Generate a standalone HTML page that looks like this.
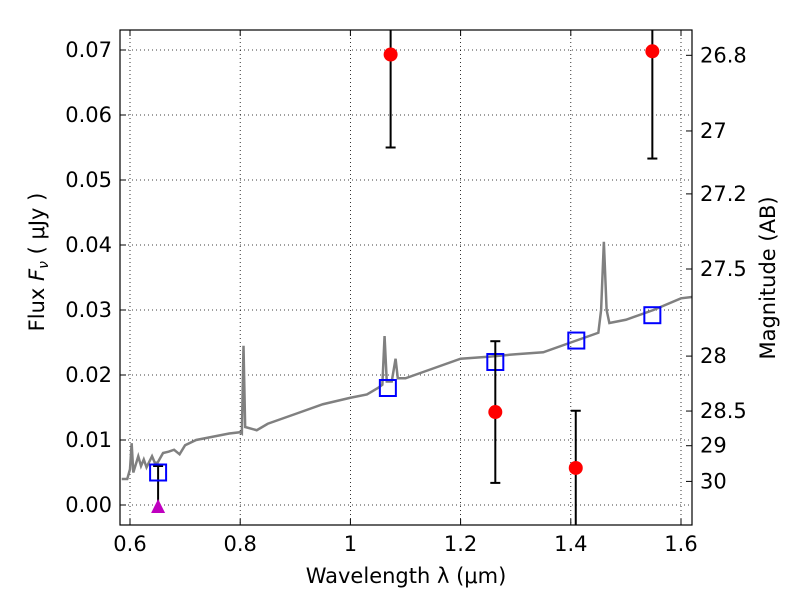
<!DOCTYPE html>
<html><head><meta charset="utf-8"><style>
body{margin:0;background:#fff}
svg text{font-family:"DejaVu Sans","Liberation Sans",sans-serif;font-size:21px;fill:#000}
</style></head><body>
<svg id="c" width="800" height="600"></svg>
<script>
const specX=[0.585,0.595,0.6,0.603,0.606,0.615,0.62,0.625,0.63,0.64,0.645,0.65,0.66,0.67,0.68,0.69,0.7,0.72,0.75,0.78,0.8,0.803,0.806,0.809,0.83,0.85,0.9,0.95,1.0,1.03,1.05,1.058,1.062,1.066,1.075,1.082,1.086,1.1,1.15,1.2,1.25,1.3,1.35,1.4,1.45,1.455,1.46,1.465,1.47,1.5,1.55,1.6,1.62];
const specY=[0.004,0.004,0.0055,0.0095,0.005,0.0075,0.006,0.007,0.0058,0.0075,0.0065,0.0065,0.008,0.0082,0.0085,0.0078,0.0092,0.01,0.0105,0.011,0.0112,0.011,0.0245,0.012,0.0115,0.0125,0.014,0.0155,0.0165,0.017,0.018,0.0185,0.026,0.019,0.019,0.0225,0.0195,0.0195,0.021,0.0225,0.0228,0.0232,0.0235,0.025,0.0265,0.03,0.0405,0.03,0.028,0.0285,0.03,0.0318,0.032];
const obsX=[1.073,1.548,1.263,1.409];
const obsY=[0.0693,0.0698,0.0143,0.0057];
const obsLo=[0.055,0.0533,0.0034,-0.01];
const obsHi=[0.08,0.08,0.0252,0.0145];
const modX=[0.651,1.068,1.263,1.41,1.548];
const modY=[0.005,0.018,0.022,0.0253,0.0292];
const limX=[0.651], limY=[0.0], limHi=[0.006];
const xTicks=[0.6,0.8,1,1.2,1.4,1.6], xLabels=["0.6","0.8","1","1.2","1.4","1.6"];
const yTicks=[0,0.01,0.02,0.03,0.04,0.05,0.06,0.07];
const magTicks=[26.8,27,27.2,27.5,28,28.5,29,30];

const L=120,R=692,T=30,B=525;
const X=v=>130+(v-0.6)*551;
const Y=v=>505-v*6500;
const svg=document.getElementById('c');
const NS='http://www.w3.org/2000/svg';
function mk(tag,at,name,parent){const e=document.createElementNS(NS,tag);for(const k in at)e.setAttribute(k,at[k]);


(parent||svg).appendChild(e);return e;}
const clip=mk('clipPath',{id:'cp'},'clip');mk('rect',{x:L,y:T,width:R-L,height:B-T},'clip-rect',clip);
const g=mk('g',{'clip-path':'url(#cp)'},'plot-area');
xTicks.forEach((t,i)=>{const x=X(t);
mk('line',{x1:x,x2:x,y1:T,y2:B,stroke:'#000','stroke-dasharray':'1,3','stroke-width':0.8},'x-grid',g);
mk('line',{x1:x,x2:x,y1:B,y2:B-6,stroke:'#000'},'x-tick');mk('line',{x1:x,x2:x,y1:T,y2:T+6,stroke:'#000'},'x-tick-top');
const tx=mk('text',{x:x,y:B+26,'text-anchor':'middle'},'x-tick-label');tx.textContent=xLabels[i];});
yTicks.forEach(t=>{const y=Y(t);
mk('line',{x1:L,x2:R,y1:y,y2:y,stroke:'#000','stroke-dasharray':'1,3','stroke-width':0.8},'y-grid',g);
mk('line',{x1:L,x2:L+6,y1:y,y2:y,stroke:'#000'},'y-tick');
const tx=mk('text',{x:L-8,y:y+7,'text-anchor':'end'},'y-tick-label');tx.textContent=t.toFixed(2);});
magTicks.forEach(m=>{const y=Y(Math.pow(10,(23.9-m)/2.5));
mk('line',{x1:R,x2:R-6,y1:y,y2:y,stroke:'#000'},'mag-tick');
const tx=mk('text',{x:R+8,y:y+7},'mag-tick-label');tx.textContent=String(m);});
mk('polyline',{points:specX.map((v,i)=>X(v)+','+Y(specY[i])).join(' '),fill:'none',stroke:'#808080','stroke-width':2.5},'model-spectrum',g);
limX.forEach((v,i)=>{const x=X(v);
mk('line',{x1:x,x2:x,y1:Y(limY[i]),y2:Y(limHi[i]),stroke:'#000','stroke-width':2},'limit-errorbar',g);
mk('line',{x1:x-5,x2:x+5,y1:Y(limHi[i]),y2:Y(limHi[i]),stroke:'#000','stroke-width':2},'limit-cap',g);
const y=Y(limY[i]);mk('polygon',{points:`${x},${y-6} ${x-7},${y+8} ${x+7},${y+8}`,fill:'#bf00bf'},'upper-limit-marker',g);});
modX.forEach((v,i)=>mk('rect',{x:X(v)-8,y:Y(modY[i])-8,width:16,height:16,fill:'none',stroke:'#0000ff','stroke-width':2},'model-photometry',g));
obsX.forEach((v,i)=>{const x=X(v);
mk('line',{x1:x,x2:x,y1:Y(obsLo[i]),y2:Y(obsHi[i]),stroke:'#000','stroke-width':2},'obs-errorbar',g);
[obsLo[i],obsHi[i]].forEach(e=>mk('line',{x1:x-5,x2:x+5,y1:Y(e),y2:Y(e),stroke:'#000','stroke-width':2},'errorbar-cap',g));
mk('circle',{cx:x,cy:Y(obsY[i]),r:7,fill:'#ff0000'},'observed-flux',g);});
mk('rect',{x:L,y:T,width:R-L,height:B-T,fill:'none',stroke:'#000','stroke-width':1.2},'plot-frame');
const xl=mk('text',{x:406,y:583,'text-anchor':'middle'},'x-axis-title');xl.textContent='Wavelength  λ (μm)';
const yl=mk('text',{x:0,y:0,'text-anchor':'middle',transform:'translate(44,262) rotate(-90)'},'y-axis-title');yl.innerHTML='Flux  <tspan font-style="italic">F</tspan><tspan font-size="14" dy="4" font-style="italic">ν</tspan><tspan dy="-4">  (  μJy )</tspan>';
const ml=mk('text',{x:0,y:0,'text-anchor':'middle',transform:'translate(775,278) rotate(-90)'},'mag-axis-title');ml.textContent='Magnitude (AB)';
</script></body></html>
